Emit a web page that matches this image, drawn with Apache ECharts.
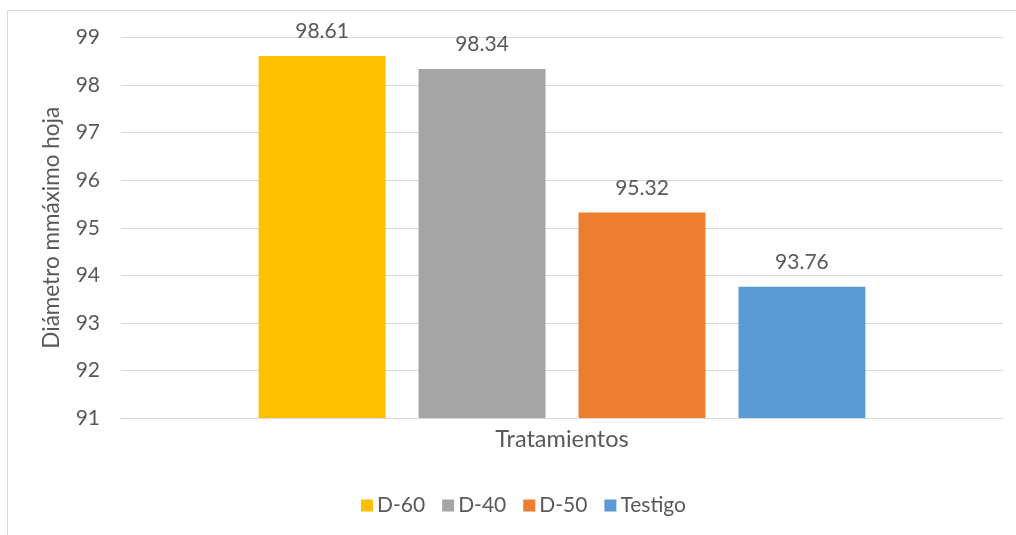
<!DOCTYPE html>
<html>
<head>
<meta charset="utf-8">
<script src="https://cdn.jsdelivr.net/npm/echarts@6/dist/echarts.min.js"></script>
<style>
  html, body { margin: 0; padding: 0; background: #fff; }
  #frame { position: absolute; left: 7px; top: 10px; width: 1020px; height: 540px; border: 1px solid #d9d9d9; box-sizing: border-box; }
  #chart { position: absolute; left: 0; top: 0; width: 1016px; height: 535px; }
</style>
</head>
<body>
<div id="frame"></div>
<div id="chart"></div>
<script>
// Diámetro máximo de hoja por tratamiento
const categories = ['Tratamientos'];
const seriesNames = ['D-60', 'D-40', 'D-50', 'Testigo'];
const seriesValues = [[98.61], [98.34], [95.32], [93.76]];
const seriesColors = ['#FFC000', '#A5A5A5', '#ED7D31', '#5B9BD5'];
const yTicks = { min: 91, max: 99, interval: 1 };

const font = 'Lato, Open Sans, sans-serif';
const textColor = '#595959';

const chart = echarts.init(document.getElementById('chart'));
chart.setOption({
  animation: false,
  textStyle: { fontFamily: font },
  grid: { left: 121, right: 13, top: 37.5, bottom: 117, containLabel: false },
  legend: {
    bottom: 14,
    left: 356,
    itemWidth: 12,
    itemHeight: 12,
    itemGap: 17,
    icon: 'rect',
    textStyle: { color: textColor, fontSize: 21, fontFamily: font, padding: [0, 0, 0, -1] },
    data: seriesNames
  },
  xAxis: {
    type: 'category',
    data: categories,
    axisLine: { show: true, lineStyle: { color: '#d9d9d9', width: 1 } },
    axisTick: { show: false },
    axisLabel: { color: textColor, fontSize: 23.5, margin: 9 }
  },
  yAxis: {
    type: 'value',
    min: yTicks.min,
    max: yTicks.max,
    interval: yTicks.interval,
    name: 'Diámetro mmáximo hoja',
    nameLocation: 'middle',
    nameGap: 58,
    nameTextStyle: { color: textColor, fontSize: 22.5 },
    axisLine: { show: false },
    axisTick: { show: false },
    axisLabel: { color: textColor, fontSize: 21, margin: 21 },
    splitLine: { lineStyle: { color: '#d9d9d9', width: 1 } }
  },
  series: seriesNames.map((name, i) => ({
    name,
    type: 'bar',
    data: seriesValues[i],
    barGap: '26%',
    barCategoryGap: '31.2%',
    itemStyle: { color: seriesColors[i] },
    label: {
      show: true,
      position: 'top',
      distance: 14,
      color: textColor,
      fontSize: 21,
      formatter: p => p.value.toFixed(2)
    }
  }))
});
</script>
</body>
</html>
